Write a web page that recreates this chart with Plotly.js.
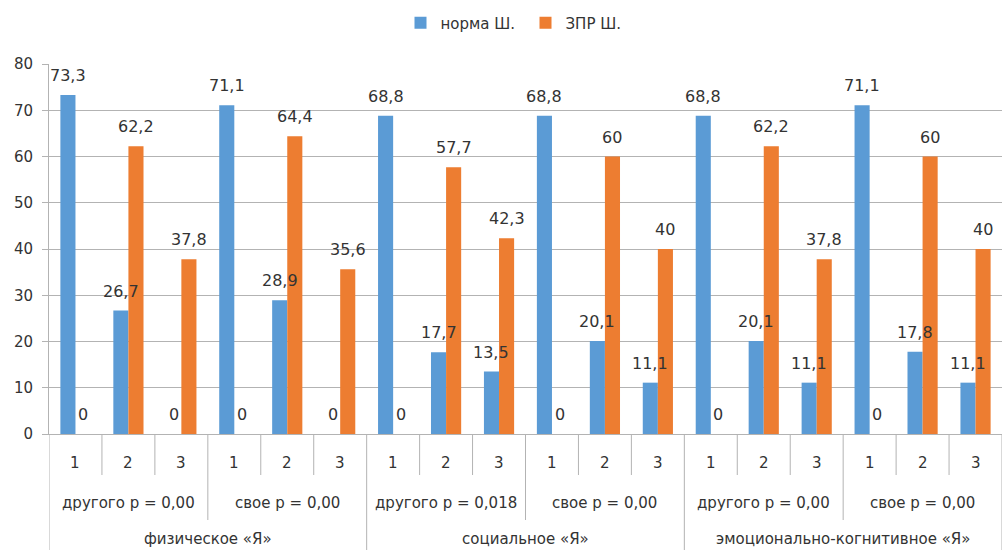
<!DOCTYPE html>
<html>
<head>
<meta charset="utf-8">
<script src="https://cdn.plot.ly/plotly-3.0.1.min.js"></script>
<style>html,body{margin:0;padding:0;background:#fff}</style>
</head>
<body>
<div id="chart" style="width:1002px;height:550px"></div>
<script>
// ---- data ----
const selfTypes = ['физическое «Я»', 'социальное «Я»', 'эмоционально-когнитивное «Я»'];
const subgroups = ['другого р = 0,00', 'свое р = 0,00', 'другого р = 0,018', 'свое р = 0,00', 'другого р = 0,00', 'свое р = 0,00'];
const levels = ['1', '2', '3'];
const seriesNames = ['норма Ш.', 'ЗПР Ш.'];
const normaValues = [73.3, 26.7, 0, 71.1, 28.9, 0, 68.8, 17.7, 13.5, 68.8, 20.1, 11.1, 68.8, 20.1, 11.1, 71.1, 17.8, 11.1];
const zprValues   = [0, 62.2, 37.8, 0, 64.4, 35.6, 0, 57.7, 42.3, 0, 60, 40, 0, 62.2, 37.8, 0, 60, 40];

// ---- style ----
const FONT = 'DejaVu Sans';
const TXT = '#333333';
const GRID = '#b3b3b3';
const BAR_GAP = 0.43;
const plotH = 550 - 64 - 116;

const idx = normaValues.map((_, i) => i);
const fmt = v => String(v).replace('.', ',');

const traces = [
  {type: 'bar', name: seriesNames[0], x: idx, y: normaValues,
   marker: {color: '#5B9BD5', line: {width: 0}}, hoverinfo: 'skip'},
  {type: 'bar', name: seriesNames[1], x: idx, y: zprValues,
   marker: {color: '#ED7D31', line: {width: 0}}, hoverinfo: 'skip'}
];

const annotations = [];
const off = (1 - BAR_GAP) / 4;
[normaValues, zprValues].forEach((vals, s) => {
  vals.forEach((v, i) => {
    annotations.push({xref: 'x', yref: 'y', x: i + (s === 0 ? -off : off), y: v,
      text: fmt(v), showarrow: false, yanchor: 'bottom', yshift: 8,
      font: {family: FONT, size: 16, color: TXT}});
  });
});
idx.forEach(i => {
  annotations.push({xref: 'x', yref: 'paper', x: i, y: 0, yshift: -29, yanchor: 'middle',
    text: levels[i % 3], showarrow: false, font: {family: FONT, size: 15, color: TXT}});
});
subgroups.forEach((t, g) => {
  annotations.push({xref: 'x', yref: 'paper', x: 3 * g + 1, y: 0, yshift: -69, yanchor: 'middle',
    text: t, showarrow: false, font: {family: FONT, size: 15, color: TXT}});
});
selfTypes.forEach((t, k) => {
  annotations.push({xref: 'x', yref: 'paper', x: 6 * k + 2.5, y: 0, yshift: -105, yanchor: 'middle',
    text: t, showarrow: false, font: {family: FONT, size: 15, color: TXT}});
});

const shapes = [];
for (let i = 0; i <= idx.length; i++) {
  let depth = 41;
  if (i % 6 === 0) depth = 118;
  else if (i % 3 === 0) depth = 86;
  shapes.push({type: 'line', xref: 'x', yref: 'paper', x0: i - 0.5, x1: i - 0.5,
    y0: 0, y1: -depth / plotH, line: {color: GRID, width: 1}});
}

const layout = {
  width: 1002, height: 550,
  margin: {l: 49, r: 0, t: 64, b: 116},
  paper_bgcolor: '#ffffff', plot_bgcolor: '#ffffff',
  barmode: 'group', bargap: BAR_GAP, bargroupgap: 0,
  font: {family: FONT, color: TXT},
  showlegend: true,
  legend: {orientation: 'h', x: 0.5, xanchor: 'center', y: (434 - 23) / plotH, yanchor: 'middle',
    font: {family: FONT, size: 15, color: TXT}, itemwidth: 30, entrywidth: 80, entrywidthmode: 'pixels'},
  xaxis: {range: [-0.5, idx.length - 0.5], showticklabels: false, ticks: '', showgrid: false,
    zeroline: false, showline: true, linecolor: GRID, linewidth: 1, fixedrange: true},
  yaxis: {range: [0, 80], dtick: 10, showgrid: true, gridcolor: GRID, gridwidth: 1,
    zeroline: false, showline: true, linecolor: GRID, linewidth: 1,
    ticks: 'outside', ticklen: 6, tickcolor: GRID, ticklabelstandoff: 6,
    tickfont: {family: FONT, size: 15, color: TXT}, fixedrange: true},
  annotations: annotations,
  shapes: shapes
};

Plotly.newPlot('chart', traces, layout, {displayModeBar: false, staticPlot: true});
</script>
</body>
</html>
